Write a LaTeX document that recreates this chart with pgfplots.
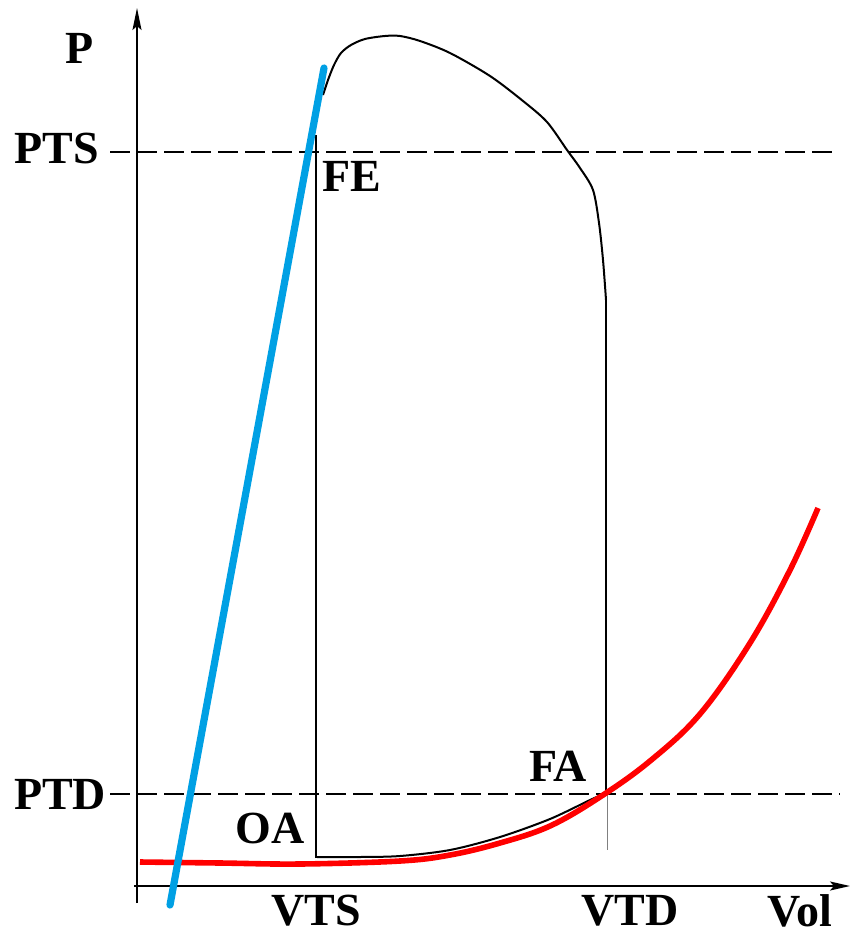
\documentclass[border=0pt]{standalone}
\usepackage{pgfplots}
\pgfplotsset{compat=1.18}
\usepackage{fontspec}
\setmainfont{Liberation Serif}
\usetikzlibrary{arrows.meta}
\definecolor{cblue}{RGB}{0,160,228}
\definecolor{cred}{RGB}{255,0,0}
\tikzset{lbl/.style={font=\fontsize{23}{27}\selectfont\bfseries, inner sep=0pt, anchor=center}}
\begin{document}
\begin{tikzpicture}
\begin{axis}[hide axis, scale only axis, width=425.5pt, height=467.5pt,
  xmin=0, xmax=851, ymin=0, ymax=935, y dir=reverse, clip=false]
\path (axis cs:0,0) rectangle (axis cs:851,935);
% axes
\addplot[black, line width=0.9pt, -{Stealth[length=11pt,width=4.5pt,inset=2pt]}] coordinates {(137,903) (137,8)};
\addplot[black, line width=0.9pt, -{Stealth[length=10pt,width=4.5pt,inset=2pt]}] coordinates {(134,886) (850,886)};
% dashed reference lines
\addplot[black, line width=0.7pt, dash pattern=on 10pt off 3.5pt] coordinates {(110,152) (838,152)};
\addplot[black, line width=0.7pt, dash pattern=on 10pt off 3.5pt] coordinates {(110,794) (840,794)};
% thin VTD marker
\addplot[gray, line width=0.4pt] coordinates {(607,793) (607,850)};
% loop
\addplot[black, line width=1pt, smooth, tension=0.5] coordinates {
(323,95) (328,80) (334,65) (341,53) (351,45) (365,39) (385,36) (400,36) (420,41)
(450,53) (490,76) (523,101) (547,122) (567,150) (580,168) (593,190)
(599,223) (603,260) (606,300)};
\addplot[black, line width=1pt] coordinates {(606,300) (606,793)};
\addplot[black, line width=1pt, smooth, tension=0.5] coordinates {
(606,793) (590,800) (550,819) (500,837) (450,850) (400,856) (360,857) (317,857)};
\addplot[black, line width=1.25pt] coordinates {(316,858) (316,135)};
% red curve
\addplot[cred, line width=2.8pt, smooth, tension=0.6] coordinates {
(140,862) (220,863) (300,864) (400,861) (450,855) (500,843) (550,826) (600,797)
(650,761) (700,714) (750,643) (790,570) (818,508)};
% blue line
\addplot[cblue, line width=3.6pt, line cap=round] coordinates {(170,905) (324,68)};
% labels
\node[lbl] at (axis cs:80,48) {P};
\node[lbl] at (axis cs:57,148) {PTS};
\node[lbl] at (axis cs:352,176) {FE};
\node[lbl] at (axis cs:60,794) {PTD};
\node[lbl] at (axis cs:270,828) {OA};
\node[lbl] at (axis cs:558,766) {FA};
\node[lbl] at (axis cs:316,911) {VTS};
\node[lbl] at (axis cs:630,911) {VTD};
\node[lbl] at (axis cs:800,911) {Vol};
\end{axis}
\end{tikzpicture}
\end{document}
